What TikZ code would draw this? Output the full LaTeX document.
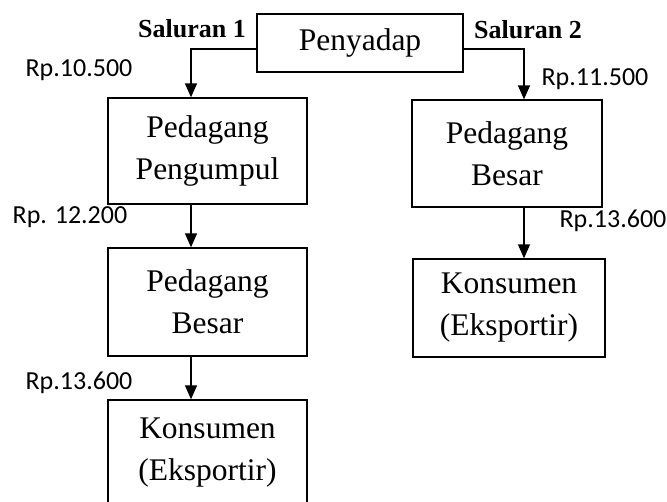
\documentclass[tikz,border=0pt]{standalone}
\usepackage{fontspec}
\setmainfont{Liberation Serif}
\newfontfamily\calibri{Carlito}
\usetikzlibrary{arrows.meta}
\tikzset{
  box/.style={draw, line width=1.3pt, rectangle, inner sep=0pt, align=center,
    font=\fontsize{31.5}{42}\selectfont},
  arr/.style={line width=1.4pt, -{Triangle[length=14pt,width=12pt]}},
  chan/.style={font=\fontsize{26}{30}\selectfont\bfseries, inner sep=0pt},
  price/.style={font=\calibri\fontsize{26}{30}\selectfont, inner sep=0pt}
}
\begin{document}
\begin{tikzpicture}[x=1pt,y=-1pt]
\useasboundingbox (0,0) rectangle (667,501);
\node[box, minimum width=206pt, minimum height=58pt] (pen) at (360,43) {Penyadap};
\node[box, minimum width=199pt, minimum height=106pt] (pp) at (207.5,151) {Pedagang\\Pengumpul};
\node[box, minimum width=199pt, minimum height=108pt] (pb1) at (207.5,302) {Pedagang\\Besar};
\node[box, minimum width=199pt, minimum height=106pt] (k1) at (207.5,453) {Konsumen\\(Eksportir)};
\node[box, minimum width=190pt, minimum height=107pt] (pb2) at (507,153.5) {Pedagang\\Besar};
\node[box, minimum width=192pt, minimum height=98pt] (k2) at (509,308) {Konsumen\\(Eksportir)};

\draw[arr] ([yshift=-6pt]pen.west) -| ([xshift=-16.5pt]pp.north);
\draw[arr] ([yshift=-6pt]pen.east) -| ([xshift=17pt]pb2.north);
\draw[arr] ([xshift=-16.5pt]pp.south) -- ([xshift=-16.5pt]pb1.north);
\draw[arr] ([xshift=-16.5pt]pb1.south) -- ([xshift=-16.5pt]k1.north);
\draw[arr] ([xshift=17pt]pb2.south) -- ([xshift=15pt]k2.north);

\node[chan] (s1) at (192,29) {Saluran 1};
\node[chan] (s2) at (528,30) {Saluran 2};
\node[price] (p1) at (79,70) {Rp.10.500};
\node[price] (p2) at (595,79) {Rp.11.500};
\node[price] (p3) at (70,217) {Rp. 12.200};
\node[price] (p4) at (613,221) {Rp.13.600};
\node[price] (p5) at (79,383) {Rp.13.600};
\end{tikzpicture}
\end{document}
